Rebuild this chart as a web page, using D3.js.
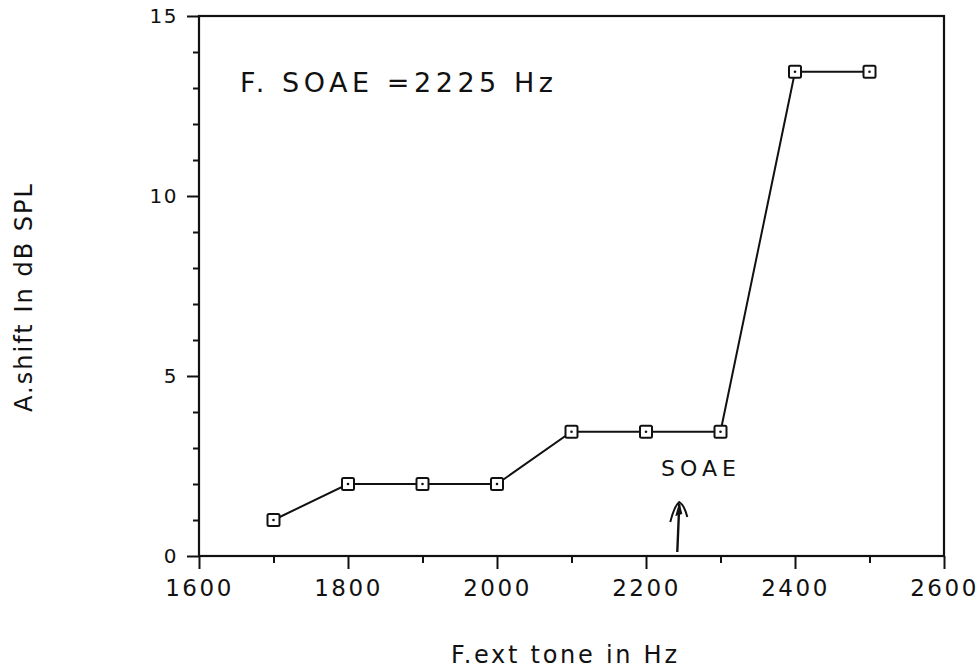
<!DOCTYPE html>
<html>
<head>
<meta charset="utf-8">
<script src="https://cdn.jsdelivr.net/npm/d3@7"></script>
<style>
  html, body { margin: 0; padding: 0; background: #fff; }
  svg { display: block; }
  text { font-family: "DejaVu Sans", sans-serif; fill: #111; }
</style>
</head>
<body>
<svg id="chart" width="979" height="672"></svg>
<script>
// External tone frequency (Hz) and the resulting threshold shift (dB SPL)
const toneFreqs = [1700, 1800, 1900, 2000, 2100, 2200, 2300, 2400, 2500];
const shiftDb   = [1.0, 2.0, 2.0, 2.0, 3.45, 3.45, 3.45, 13.45, 13.45];

const xMajorTicks = [1600, 1800, 2000, 2200, 2400, 2600];
const xMinorTicks = [1700, 1900, 2100, 2300, 2500];
const yMajorTicks = [0, 5, 10, 15];
const yMinorTicks = [1, 2, 3, 4, 6, 7, 8, 9, 11, 12, 13, 14];

const titleText = "F. SOAE =2225  Hz";
const arrowFreq = 2242;   // hand-drawn arrow under the "SOAE" note
const xTitle = "F.ext tone in Hz";
const yTitle = "A.shift In dB SPL";

const svg = d3.select("#chart");
const ink = "#111";

const x = d3.scaleLinear().domain([1600, 2600]).range([199, 944]);
const y = d3.scaleLinear().domain([0, 15]).range([556, 16]);

// Plot frame
svg.append("rect")
  .attr("x", x(1600)).attr("y", y(15))
  .attr("width", x(2600) - x(1600)).attr("height", y(0) - y(15))
  .attr("fill", "none").attr("stroke", ink).attr("stroke-width", 2.2);

// X axis: labelled ticks every 200 Hz, short ticks in between
const xAxis = svg.append("g").attr("transform", `translate(0,${y(0)})`)
  .call(d3.axisBottom(x).tickValues(xMajorTicks).tickSize(13).tickPadding(11).tickFormat(d3.format("d")));
svg.append("g").attr("transform", `translate(0,${y(0)})`)
  .call(d3.axisBottom(x).tickValues(xMinorTicks).tickSize(7).tickFormat(""))
  .call(g => g.select(".domain").remove());
xAxis.select(".domain").remove();
xAxis.selectAll("text")
  .attr("font-size", 23).attr("font-family", "DejaVu Sans, sans-serif")
  .attr("letter-spacing", 2.5).attr("fill", ink);

// Y axis: labelled ticks every 5 dB, short ticks every 1 dB
const yAxis = svg.append("g").attr("transform", `translate(${x(1600)},0)`)
  .call(d3.axisLeft(y).tickValues(yMajorTicks).tickSize(12).tickPadding(9).tickFormat(d3.format("d")));
svg.append("g").attr("transform", `translate(${x(1600)},0)`)
  .call(d3.axisLeft(y).tickValues(yMinorTicks).tickSize(6).tickFormat(""))
  .call(g => g.select(".domain").remove());
yAxis.select(".domain").remove();
yAxis.selectAll("text")
  .attr("font-size", 20).attr("font-family", "DejaVu Sans, sans-serif")
  .attr("letter-spacing", 1.5).attr("fill", ink);

svg.selectAll(".tick line").attr("stroke", ink).attr("stroke-width", 2);

// Data line
const pts = toneFreqs.map((f, i) => [f, shiftDb[i]]);
svg.append("path")
  .datum(pts)
  .attr("d", d3.line().x(d => x(d[0])).y(d => y(d[1])))
  .attr("fill", "none").attr("stroke", ink).attr("stroke-width", 2);

// Square markers with a centre dot
const m = svg.append("g").selectAll("g").data(pts).join("g")
  .attr("transform", d => `translate(${x(d[0])},${y(d[1])})`);
m.append("rect")
  .attr("x", -6).attr("y", -6).attr("width", 12).attr("height", 12).attr("rx", 1.5)
  .attr("fill", "#fff").attr("stroke", ink).attr("stroke-width", 2);
m.append("circle").attr("r", 1.3).attr("fill", ink);

// Annotation title
svg.append("text")
  .attr("x", 240).attr("y", 92)
  .attr("font-size", 27)
  .attr("textLength", 313).attr("lengthAdjust", "spacing")
  .text(titleText);

// SOAE note and arrow
svg.append("text")
  .attr("x", 661).attr("y", 476)
  .attr("font-size", 22)
  .attr("textLength", 75).attr("lengthAdjust", "spacing")
  .text("SOAE");

const ax = x(arrowFreq);
svg.append("path")
  .attr("d", `M${ax},${y(0) - 4} L${ax + 2},${y(0) - 52}`)
  .attr("fill", "none").attr("stroke", ink).attr("stroke-width", 2.4);
svg.append("path")
  .attr("d", `M${ax - 7},${y(0) - 34} Q${ax - 3},${y(0) - 50} ${ax + 2},${y(0) - 54} Q${ax + 7},${y(0) - 51} ${ax + 10},${y(0) - 39}`)
  .attr("fill", "none").attr("stroke", ink).attr("stroke-width", 2);
svg.append("path")
  .attr("d", `M${ax - 2},${y(0) - 40} L${ax + 2},${y(0) - 54} L${ax + 5},${y(0) - 42} Z`)
  .attr("fill", ink);

// Axis titles
svg.append("text")
  .attr("x", 564).attr("y", 663)
  .attr("text-anchor", "middle")
  .attr("font-size", 24)
  .attr("textLength", 226).attr("lengthAdjust", "spacing")
  .text(xTitle);

svg.append("text")
  .attr("transform", "translate(32,298) rotate(-90)")
  .attr("text-anchor", "middle")
  .attr("font-size", 24)
  .attr("textLength", 228).attr("lengthAdjust", "spacing")
  .text(yTitle);
</script>
</body>
</html>
